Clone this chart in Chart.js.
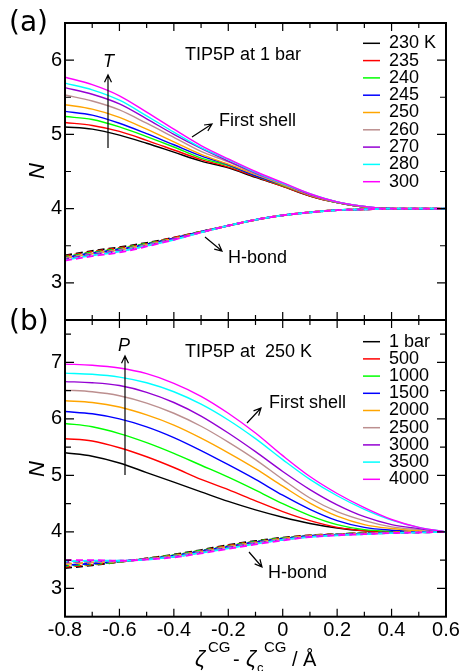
<!DOCTYPE html>
<html>
<head>
<meta charset="utf-8">
<script src="https://cdn.jsdelivr.net/npm/chart.js@4.4.1/dist/chart.umd.min.js"></script>
<style>
  html, body { margin: 0; padding: 0; background: #fff; }
  #wrap { position: relative; width: 462px; height: 671px; }
  canvas { position: absolute; left: 0; top: 0; }
</style>
</head>
<body>
<div id="wrap">
  <canvas id="chartA" width="462" height="671"></canvas>
  <canvas id="chartB" width="462" height="671"></canvas>
</div>
<script>
// x grid of the curves (zeta^CG - zeta_c^CG, in Angstrom)
const xValues = [-0.8, -0.7, -0.6, -0.5, -0.4, -0.3, -0.2, -0.1, 0, 0.1, 0.2, 0.3, 0.4, 0.5, 0.6];

const seriesColors = ['#000000', '#ff0000', '#00ff00', '#0000ff', '#ffa500', '#bc8f8f', '#9400d3', '#00ffff', '#ff00ff'];
const tempLabels = ['230 K', '235', '240', '245', '250', '260', '270', '280', '300'];
const pressLabels = ['1 bar', '500', '1000', '1500', '2000', '2500', '3000', '3500', '4000'];

const xTicks = [-0.8, -0.6, -0.4, -0.2, 0, 0.2, 0.4, 0.6];
const yTicksA = [3, 4, 5, 6];
const yTicksB = [3, 4, 5, 6, 7];

// (a) TIP5P at 1 bar, one row per temperature
const shellByTemp = [
  [5.10, 5.07, 4.99, 4.88, 4.76, 4.64, 4.55, 4.42, 4.30, 4.17, 4.08, 4.02, 4.00, 4.00, 4.00],
  [5.16, 5.12, 5.04, 4.92, 4.79, 4.66, 4.56, 4.43, 4.30, 4.17, 4.08, 4.02, 4.00, 4.00, 4.00],
  [5.24, 5.20, 5.10, 4.97, 4.83, 4.68, 4.58, 4.44, 4.31, 4.18, 4.08, 4.02, 4.00, 4.00, 4.00],
  [5.31, 5.26, 5.15, 5.01, 4.86, 4.71, 4.59, 4.44, 4.32, 4.18, 4.08, 4.02, 4.00, 4.00, 4.00],
  [5.40, 5.34, 5.23, 5.07, 4.90, 4.73, 4.60, 4.46, 4.32, 4.18, 4.08, 4.02, 4.00, 4.00, 4.00],
  [5.53, 5.45, 5.33, 5.15, 4.96, 4.77, 4.63, 4.47, 4.33, 4.19, 4.09, 4.03, 4.00, 4.00, 4.00],
  [5.63, 5.54, 5.41, 5.21, 5.00, 4.81, 4.64, 4.48, 4.34, 4.19, 4.09, 4.03, 4.00, 4.00, 4.00],
  [5.69, 5.60, 5.46, 5.25, 5.03, 4.82, 4.66, 4.49, 4.34, 4.20, 4.09, 4.03, 4.00, 4.00, 4.00],
  [5.77, 5.67, 5.52, 5.30, 5.07, 4.85, 4.67, 4.50, 4.35, 4.20, 4.09, 4.03, 4.00, 4.00, 4.00]
];
const hbondByTemp = [
  [3.37, 3.43, 3.48, 3.54, 3.61, 3.69, 3.77, 3.85, 3.91, 3.95, 3.98, 3.99, 4.00, 4.00, 4.00],
  [3.36, 3.42, 3.47, 3.53, 3.61, 3.69, 3.77, 3.85, 3.91, 3.95, 3.98, 3.99, 4.00, 4.00, 4.00],
  [3.35, 3.41, 3.46, 3.53, 3.60, 3.69, 3.77, 3.85, 3.91, 3.95, 3.98, 3.99, 4.00, 4.00, 4.00],
  [3.34, 3.40, 3.45, 3.52, 3.60, 3.69, 3.77, 3.85, 3.91, 3.95, 3.98, 3.99, 4.00, 4.00, 4.00],
  [3.335, 3.395, 3.445, 3.515, 3.595, 3.685, 3.77, 3.85, 3.91, 3.95, 3.98, 3.99, 4.00, 4.00, 4.00],
  [3.33, 3.39, 3.44, 3.51, 3.59, 3.68, 3.77, 3.85, 3.91, 3.95, 3.98, 3.99, 4.00, 4.00, 4.00],
  [3.32, 3.38, 3.43, 3.50, 3.59, 3.68, 3.77, 3.85, 3.91, 3.95, 3.98, 3.99, 4.00, 4.00, 4.00],
  [3.31, 3.37, 3.42, 3.50, 3.58, 3.68, 3.77, 3.85, 3.91, 3.95, 3.98, 3.99, 4.00, 4.00, 4.00],
  [3.30, 3.36, 3.41, 3.49, 3.58, 3.68, 3.77, 3.85, 3.91, 3.95, 3.98, 3.99, 4.00, 4.00, 4.00]
];

// (b) TIP5P at 250 K, one row per pressure
const shellByPress = [
  [5.40, 5.34, 5.22, 5.05, 4.88, 4.71, 4.54, 4.39, 4.26, 4.15, 4.07, 4.02, 4.00, 4.00, 4.00],
  [5.65, 5.61, 5.49, 5.33, 5.14, 4.93, 4.75, 4.55, 4.36, 4.20, 4.08, 4.02, 4.00, 4.00, 4.00],
  [5.92, 5.86, 5.74, 5.58, 5.39, 5.18, 4.97, 4.74, 4.50, 4.29, 4.13, 4.04, 4.01, 4.00, 4.00],
  [6.13, 6.09, 6.00, 5.86, 5.67, 5.44, 5.19, 4.93, 4.65, 4.40, 4.20, 4.08, 4.03, 4.01, 4.00],
  [6.32, 6.29, 6.21, 6.07, 5.89, 5.66, 5.40, 5.12, 4.81, 4.51, 4.28, 4.13, 4.06, 4.02, 4.00],
  [6.51, 6.48, 6.41, 6.28, 6.10, 5.87, 5.59, 5.28, 4.93, 4.60, 4.36, 4.20, 4.09, 4.04, 4.00],
  [6.66, 6.64, 6.59, 6.47, 6.29, 6.05, 5.75, 5.42, 5.07, 4.75, 4.48, 4.27, 4.13, 4.06, 4.00],
  [6.81, 6.79, 6.74, 6.64, 6.48, 6.26, 5.98, 5.65, 5.28, 4.93, 4.64, 4.40, 4.21, 4.08, 4.00],
  [6.97, 6.95, 6.90, 6.80, 6.63, 6.40, 6.10, 5.75, 5.35, 4.98, 4.68, 4.43, 4.22, 4.08, 4.00]
];
const hbondByPress = [
  [3.36, 3.41, 3.47, 3.53, 3.60, 3.68, 3.77, 3.84, 3.90, 3.94, 3.96, 3.98, 3.99, 4.00, 4.00],
  [3.38, 3.42, 3.47, 3.53, 3.59, 3.67, 3.76, 3.83, 3.89, 3.94, 3.96, 3.98, 3.99, 4.00, 4.00],
  [3.40, 3.43, 3.47, 3.53, 3.59, 3.67, 3.75, 3.83, 3.89, 3.93, 3.96, 3.98, 3.99, 4.00, 4.00],
  [3.41, 3.44, 3.48, 3.52, 3.58, 3.66, 3.74, 3.82, 3.88, 3.93, 3.95, 3.97, 3.99, 4.00, 4.00],
  [3.43, 3.46, 3.48, 3.52, 3.58, 3.65, 3.74, 3.81, 3.88, 3.93, 3.95, 3.97, 3.99, 4.00, 4.00],
  [3.45, 3.47, 3.48, 3.52, 3.57, 3.65, 3.73, 3.81, 3.87, 3.92, 3.95, 3.97, 3.98, 3.99, 4.00],
  [3.47, 3.48, 3.49, 3.52, 3.56, 3.64, 3.72, 3.80, 3.86, 3.92, 3.95, 3.97, 3.98, 3.99, 4.00],
  [3.48, 3.49, 3.49, 3.51, 3.56, 3.63, 3.71, 3.79, 3.86, 3.91, 3.94, 3.96, 3.98, 3.99, 4.00],
  [3.50, 3.50, 3.49, 3.51, 3.55, 3.62, 3.70, 3.78, 3.85, 3.91, 3.94, 3.96, 3.98, 3.99, 4.00]
];

const FONT = "'Liberation Sans', Arial, sans-serif";

function buildDatasets(shell, hbond) {
  const sets = [];
  // Chart.js paints lower "order" last, so the last series ends up on top
  shell.forEach((row, i) => {
    sets.push({
      data: xValues.map((x, j) => ({ x: x, y: row[j] })),
      borderColor: seriesColors[i],
      borderWidth: 1.4,
      pointRadius: 0,
      order: 20 - i,
      cubicInterpolationMode: 'monotone'
    });
  });
  hbond.forEach((row, i) => {
    sets.push({
      data: xValues.map((x, j) => ({ x: x, y: row[j] })),
      borderColor: seriesColors[i],
      borderWidth: 1.8,
      borderDash: [7, 4],
      borderDashOffset: (i % 4) * 1.5,
      pointRadius: 0,
      order: 10 - i,
      cubicInterpolationMode: 'monotone'
    });
  });
  return sets;
}

function arrow(ctx, x1, y1, x2, y2) {
  const a = Math.atan2(y2 - y1, x2 - x1);
  const h = 8;
  ctx.beginPath();
  ctx.moveTo(x1, y1);
  ctx.lineTo(x2, y2);
  ctx.moveTo(x2 - h * Math.cos(a - 0.45), y2 - h * Math.sin(a - 0.45));
  ctx.lineTo(x2, y2);
  ctx.lineTo(x2 - h * Math.cos(a + 0.45), y2 - h * Math.sin(a + 0.45));
  ctx.stroke();
}

// frame, inward ticks on all four sides, legend and annotations
function decorPlugin(cfg) {
  return {
    id: 'decor',
    afterDraw(chart) {
      const ctx = chart.ctx;
      const area = chart.chartArea;
      const xs = chart.scales.x, ys = chart.scales.y;
      ctx.save();
      ctx.strokeStyle = '#000';
      ctx.lineWidth = 1.2;
      for (let k = -8; k <= 6; k++) {
        const px = xs.getPixelForValue(k / 10);
        const len = k % 2 === 0 ? 8 : 5;
        ctx.beginPath();
        ctx.moveTo(px, area.bottom); ctx.lineTo(px, area.bottom - len);
        ctx.moveTo(px, area.top); ctx.lineTo(px, area.top + len);
        ctx.stroke();
      }
      for (let v = ys.min + 0.5; v < ys.max; v += 0.5) {
        const py = ys.getPixelForValue(v);
        const len = Number.isInteger(v) ? 9 : 6;
        ctx.beginPath();
        ctx.moveTo(area.left, py); ctx.lineTo(area.left + len, py);
        ctx.moveTo(area.right, py); ctx.lineTo(area.right - len, py);
        ctx.stroke();
      }
      ctx.lineWidth = 2;
      ctx.strokeRect(area.left, area.top, area.right - area.left, area.bottom - area.top);

      // legend
      ctx.lineWidth = 1.5;
      ctx.fillStyle = '#000';
      ctx.font = '18px ' + FONT;
      ctx.textBaseline = 'middle';
      ctx.textAlign = 'left';
      cfg.legend.forEach((lab, i) => {
        const y = cfg.legendTop + i * cfg.legendStep;
        ctx.strokeStyle = seriesColors[i];
        ctx.beginPath();
        ctx.moveTo(363, y); ctx.lineTo(380, y);
        ctx.stroke();
        ctx.fillText(lab, 389, y);
      });

      // texts
      ctx.strokeStyle = '#000';
      ctx.lineWidth = 1.2;
      cfg.texts.forEach(t => {
        ctx.font = t.font;
        ctx.fillText(t.s, t.x, t.y);
      });
      cfg.arrows.forEach(a => arrow(ctx, a[0], a[1], a[2], a[3]));

      // rotated y title
      ctx.save();
      ctx.translate(38, cfg.nY);
      ctx.rotate(-Math.PI / 2);
      ctx.font = 'italic 22px ' + FONT;
      ctx.textAlign = 'center';
      ctx.fillText('N', 0, 0);
      ctx.restore();

      if (cfg.xTitle) {
        ctx.textBaseline = 'alphabetic';
        ctx.textAlign = 'left';
        const base = 666;
        ctx.font = 'italic 22px ' + FONT;
        ctx.fillText('\u03B6', 195, base);
        ctx.font = '15px ' + FONT;
        ctx.fillText('CG', 208, 652);
        ctx.font = '20px ' + FONT;
        ctx.fillText('-', 233, base);
        ctx.font = 'italic 22px ' + FONT;
        ctx.fillText('\u03B6', 246, base);
        ctx.font = '13px ' + FONT;
        ctx.fillText('c', 257, 672);
        ctx.font = '15px ' + FONT;
        ctx.fillText('CG', 264, 652);
        ctx.font = '20px ' + FONT;
        ctx.fillText('/ \u00C5', 292, base);
      }
      ctx.restore();
    }
  };
}

function makeChart(id, shell, hbond, yMax, yTicks, padding, showX, cfg) {
  return new Chart(document.getElementById(id), {
    type: 'line',
    data: { datasets: buildDatasets(shell, hbond) },
    options: {
      responsive: false,
      animation: false,
      events: [],
      layout: { padding: padding },
      plugins: { legend: { display: false }, tooltip: { enabled: false } },
      scales: {
        x: {
          type: 'linear', min: -0.8, max: 0.6,
          grid: { display: false, drawTicks: false },
          border: { display: false },
          ticks: {
            display: showX, color: '#000', padding: 2, maxRotation: 0, autoSkip: false,
            font: { size: 20, family: FONT },
            callback: v => String(v)
          },
          afterBuildTicks: s => { s.ticks = xTicks.map(v => ({ value: v })); },
          afterFit: s => { s.height = showX ? 30 : 0; s.paddingLeft = 0; s.paddingRight = 0; }
        },
        y: {
          min: 2.5, max: yMax,
          grid: { display: false, drawTicks: false },
          border: { display: false },
          ticks: { color: '#000', padding: 3, font: { size: 20, family: FONT } },
          afterBuildTicks: s => { s.ticks = yTicks.map(v => ({ value: v })); },
          afterFit: s => { s.width = 40; s.paddingTop = 0; s.paddingBottom = 0; }
        }
      }
    },
    plugins: [decorPlugin(cfg)]
  });
}

const PANEL_FONT = "'DejaVu Sans', sans-serif";

makeChart('chartA', shellByTemp, hbondByTemp, 6.5, yTicksA,
  { left: 25, right: 16, top: 23, bottom: 351 }, false, {
    legend: tempLabels, legendTop: 43.3, legendStep: 17.3, nY: 171,
    texts: [
      { s: '(a)', x: 9, y: 24, font: '28px ' + PANEL_FONT },
      { s: 'TIP5P at 1 bar', x: 185, y: 55, font: '18px ' + FONT },
      { s: 'First shell', x: 219, y: 121, font: '18px ' + FONT },
      { s: 'H-bond', x: 228, y: 258, font: '18px ' + FONT },
      { s: 'T', x: 103, y: 62, font: 'italic 18px ' + FONT }
    ],
    arrows: [[108, 148, 108, 75], [192, 137, 212, 124], [205, 237, 222, 251]]
  });

makeChart('chartB', shellByPress, hbondByPress, 7.75, yTicksB,
  { left: 25, right: 16, top: 320, bottom: 24.3 }, true, {
    legend: pressLabels, legendTop: 341.7, legendStep: 17.2, nY: 469,
    texts: [
      { s: '(b)', x: 9, y: 323, font: '28px ' + PANEL_FONT },
      { s: 'TIP5P at  250 K', x: 185, y: 352, font: '18px ' + FONT },
      { s: 'First shell', x: 269, y: 403, font: '18px ' + FONT },
      { s: 'H-bond', x: 268, y: 573, font: '18px ' + FONT },
      { s: 'P', x: 118, y: 346, font: 'italic 18px ' + FONT }
    ],
    arrows: [[125, 475, 125, 356], [247, 423, 261, 408], [249, 552, 262, 567]],
    xTitle: true
  });
</script>
</body>
</html>
